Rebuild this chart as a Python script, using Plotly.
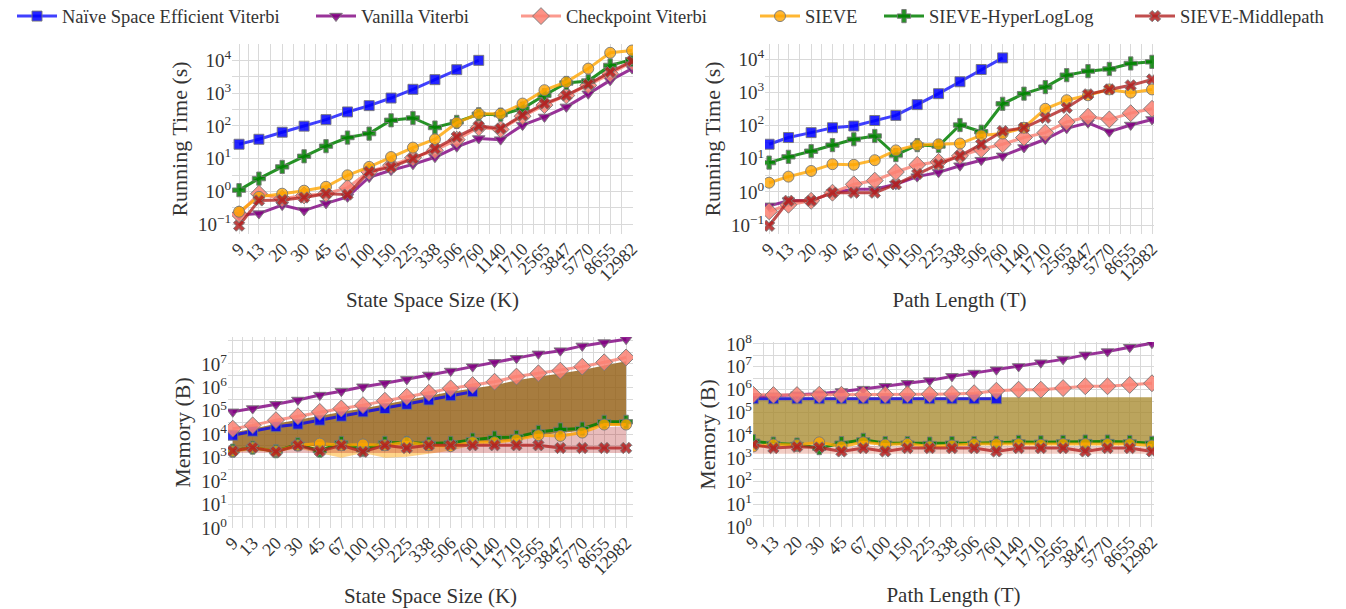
import numpy as np
import plotly.graph_objects as go

# ---------------- data ----------------
X = [9, 13, 20, 30, 45, 67, 100, 150, 225, 338, 506, 760, 1140, 1710, 2565, 3847, 5770, 8655, 12982]
X_LABELS = [str(v) for v in X]

series_names = ["Naïve Space Efficient Viterbi", "Vanilla Viterbi", "Checkpoint Viterbi",
                "SIEVE", "SIEVE-HyperLogLog", "SIEVE-Middlepath"]

# Running time vs state space size K (s)
time_K_naive = [27.5, 39, 64, 98, 155, 266, 415, 707, 1306, 2580, 5190, 10000]
time_K_vanilla = [0.19, 0.21, 0.38, 0.26, 0.43, 0.68, 2.7, 4.4, 6.7, 11, 23, 41, 38, 105, 187, 380, 950, 2450, 5600]
time_K_checkpoint = [0.2, 0.85, 0.6, 0.75, 0.85, 1.3, 4.0, 6.3, 10.6, 18, 38, 89, 78, 196, 430, 850, 1730, 3900, 8900]
time_K_sieve = [0.24, 0.68, 0.85, 1.05, 1.38, 3.1, 5.6, 11.2, 21.7, 39, 125, 234, 234, 480, 1230, 2180, 5600, 17000, 20000]
time_K_hll = [1.09, 2.45, 5.6, 11.8, 24, 44, 58, 148, 174, 89, 132, 226, 220, 336, 860, 2040, 2340, 7000, 10500]
time_K_middle = [0.09, 0.53, 0.55, 0.65, 0.85, 0.8, 4.0, 5.5, 10, 20, 46, 98, 83, 210, 480, 850, 1860, 4400, 9500]

# Running time vs path length T (s)
time_T_naive = [27.6, 44, 62, 87, 98, 144, 205, 435, 930, 2130, 5000, 11200]
time_T_vanilla = [0.38, 0.54, 0.54, 0.95, 1.2, 1.2, 1.7, 2.9, 3.9, 6.2, 9.1, 12.3, 22, 39, 83, 123, 66, 105, 155]
time_T_checkpoint = [0.26, 0.41, 0.54, 0.95, 1.7, 2.2, 4.0, 6.6, 8.1, 12.3, 19.5, 27.5, 44, 62, 130, 187, 155, 240, 325]
time_T_sieve = [1.9, 2.9, 4.3, 6.9, 6.6, 9.1, 18, 26, 27.5, 29, 51, 58, 87, 325, 590, 830, 1250, 1000, 1250]
time_T_hll = [7.7, 11.5, 17, 26, 39, 49, 13, 26, 24.5, 105, 66, 460, 930, 1470, 3370, 4460, 5200, 7600, 8500]
time_T_middle = [0.095, 0.54, 0.54, 0.95, 0.95, 0.95, 1.7, 3.5, 6.9, 12.3, 27.5, 69, 87, 174, 350, 890, 1250, 1660, 2500]

# Memory vs state space size K (B)
mem_K_naive = [9.1e3, 1.35e4, 2.1e4, 2.7e4, 4e4, 5.9e4, 9e4, 1.26e5, 1.9e5, 2.9e5, 4.4e5, 6.5e5]
mem_K_vanilla = [9.1e4, 1.25e5, 1.9e5, 2.9e5, 4.7e5, 6.9e5, 1.07e6, 1.5e6, 2.2e6, 3.4e6, 5e6, 7.7e6,
                 1.18e7, 1.75e7, 2.7e7, 3.7e7, 5.9e7, 8.2e7, 1.14e8]
mem_K_checkpoint = [1.74e4, 2.4e4, 4e4, 5.9e4, 9e4, 1.26e5, 1.75e5, 2.7e5, 4e5, 5.9e5, 9.1e5, 1.26e6,
                    1.75e6, 2.9e6, 4e6, 5.2e6, 7.7e6, 1.18e7, 1.9e7]
mem_K_sieve = [1.9e3, 2.7e3, 1.9e3, 3.4e3, 4e3, 3.4e3, 3.7e3, 3.4e3, 4.6e3, 3.4e3, 3.1e3, 4.6e3,
               4.6e3, 5.9e3, 9.1e3, 8.5e3, 1.18e4, 2.6e4, 2.6e4]
mem_K_hll = [2e3, 2.7e3, 1.9e3, 3.7e3, 2e3, 4.3e3, 2.2e3, 4.3e3, 4.3e3, 4e3, 4.3e3, 5.9e3,
             7.2e3, 7.7e3, 1.26e4, 1.6e4, 1.75e4, 3.4e4, 3.4e4]
mem_K_middle = [1.95e3, 2.7e3, 1.8e3, 3.4e3, 1.9e3, 3.4e3, 1.8e3, 3.4e3, 2.6e3, 3.4e3, 3.4e3, 3.4e3,
                3.4e3, 3.4e3, 3.4e3, 2.6e3, 2.6e3, 2.6e3, 2.6e3]

# Memory vs path length T (B)
mem_T_naive = [4e5, 4e5, 4e5, 4e5, 4e5, 4e5, 4e5, 4e5, 4e5, 4e5, 4e5, 4e5]
mem_T_vanilla = [5e5, 5.4e5, 6e5, 6.6e5, 8.3e5, 1.05e6, 1.4e6, 1.9e6, 2.5e6, 3.8e6, 5.3e6, 7.4e6,
                 1.03e7, 1.5e7, 2.1e7, 3.3e7, 4.6e7, 7.1e7, 1.07e8]
mem_T_checkpoint = [6e5, 5.8e5, 5.8e5, 6e5, 6e5, 6e5, 6e5, 6.3e5, 6.3e5, 6.5e5, 7e5, 9e5,
                    1e6, 1e6, 1.17e6, 1.4e6, 1.4e6, 1.6e6, 1.9e6]
mem_T_sieve = [3.3e3, 4e3, 3.8e3, 5e3, 3.3e3, 5e3, 4e3, 4.3e3, 3.3e3, 3.6e3, 4.2e3, 4.2e3,
               4.2e3, 3.9e3, 4.2e3, 4.2e3, 4.2e3, 4.2e3, 3.6e3]
mem_T_hll = [5.6e3, 4.4e3, 4e3, 2.8e3, 4.6e3, 6.4e3, 4.6e3, 4.6e3, 4.4e3, 4.6e3, 4.6e3, 4.8e3,
             5.2e3, 5e3, 5.2e3, 5.4e3, 5.4e3, 5.2e3, 4.6e3]
mem_T_middle = [4e3, 2.8e3, 3.2e3, 3e3, 2e3, 2.8e3, 2e3, 2.8e3, 2.8e3, 2.8e3, 2.8e3, 2e3,
                2.8e3, 2.8e3, 2.8e3, 2e3, 2.8e3, 2.8e3, 2e3]

# shaded bands
band_K_brown_hi = [1.2e4, 1.7e4, 2.8e4, 4.2e4, 6.5e4, 9e4, 1.25e5, 1.9e5, 2.8e5, 4.2e5, 6.5e5, 9e5,
                   1.25e6, 2e6, 2.8e6, 3.7e6, 5.5e6, 8.5e6, 1.3e7]
band_K_brown_lo = [2.2e3, 2.7e3, 2.2e3, 3.4e3, 3e3, 3.4e3, 3e3, 3.4e3, 3.8e3, 3.4e3, 3.4e3, 4.3e3,
                   4.6e3, 5.5e3, 9e3, 1.1e4, 1.4e4, 2.4e4, 2.4e4]
band_K_pink_hi = [2.2e3, 2.7e3, 2.2e3, 3.4e3, 2.5e3, 3.4e3, 2.5e3, 3.4e3, 3.4e3, 3.4e3, 3.4e3, 4.2e3,
                  4.5e3, 5.4e3, 8.5e3, 1.05e4, 1.35e4, 2e4, 2.2e4]
band_K_pink_lo = [1.6e3, 1.7e3, 1.6e3, 1.7e3, 1.6e3, 1.7e3, 1.6e3, 1.6e3, 1.6e3, 1.6e3, 1.6e3, 1.6e3,
                  1.6e3, 1.6e3, 1.6e3, 1.6e3, 1.6e3, 1.6e3, 1.6e3]
band_K_yellow_hi = [2.2e3, 2.9e3, 2.2e3, 3.6e3, 4.2e3, 3.6e3, 3.9e3, 3.6e3, 4.6e3, 3.6e3, 3.3e3, 3.4e3,
                    3.4e3, 3.4e3, 3.4e3, 3.4e3, 3.4e3, 3.4e3, 3.4e3]
band_K_yellow_lo = [1.7e3, 2e3, 1.7e3, 2.5e3, 1.6e3, 1e3, 1.6e3, 1e3, 1.1e3, 1.5e3, 2e3, 3.4e3,
                    3.4e3, 3.4e3, 3.4e3, 3.4e3, 3.4e3, 3.4e3, 3.4e3]

band_T_olive_hi = [4.6e5, 4.6e5, 4.6e5, 4.6e5, 4.6e5, 4.6e5, 4.6e5, 4.6e5, 4.6e5, 4.6e5, 4.6e5, 4.6e5,
                   4.6e5, 4.6e5, 4.6e5, 4.6e5, 4.6e5, 4.6e5, 4.6e5]
band_T_olive_lo = [4.5e3, 4.2e3, 4e3, 4e3, 4e3, 4.8e3, 4.2e3, 4.4e3, 4e3, 4.2e3, 4.4e3, 4.4e3,
                   4.6e3, 4.4e3, 4.6e3, 4.7e3, 4.7e3, 4.6e3, 4.2e3]
band_T_pink_hi = [3.5e3, 3.2e3, 3.3e3, 3.6e3, 3e3, 3.6e3, 3.2e3, 3.3e3, 3e3, 3.2e3, 3.3e3, 3.3e3,
                  3.3e3, 3.3e3, 3.3e3, 3.3e3, 3.3e3, 3.3e3, 3.1e3]
band_T_pink_lo = [1.6e3, 1.6e3, 1.6e3, 1.6e3, 1.6e3, 1.6e3, 1.6e3, 1.6e3, 1.6e3, 1.6e3, 1.6e3, 1.6e3,
                  1.6e3, 1.6e3, 1.6e3, 1.6e3, 1.6e3, 1.6e3, 1.6e3]

# ---------------- styles ----------------
FONT = "Liberation Serif"
TXT = "#333333"
EDGE = "rgba(120,120,120,0.9)"
styles = [
    dict(color="rgba(0,0,255,0.85)", symbol="square", size=10),
    dict(color="rgba(128,0,128,0.85)", symbol="triangle-down", size=11),
    dict(color="rgba(250,128,114,0.85)", symbol="diamond", size=13),
    dict(color="rgba(255,165,0,0.8)", symbol="circle", size=11),
    dict(color="rgba(0,128,0,0.85)", symbol="cross", size=11),
    dict(color="rgba(178,34,34,0.85)", symbol="x", size=10),
]
line_colors = ["rgba(0,0,255,0.75)", "rgba(128,0,128,0.8)", "rgba(250,128,114,0.8)",
               "rgba(255,165,0,0.8)", "rgba(0,128,0,0.85)", "rgba(178,34,34,0.8)"]
DRAW_ORDER = [0, 1, 2, 4, 3, 5]
# x pixel where each legend entry text starts in the reference
legend_text_px = [62, 361, 566, 805, 929, 1180]

fig = go.Figure()


def add_band(hi, lo, color, xa, ya):
    fig.add_trace(go.Scatter(x=X + X[::-1], y=hi + lo[::-1], fill="toself", fillcolor=color,
                             line=dict(width=0), mode="lines", showlegend=False,
                             hoverinfo="skip", xaxis=xa, yaxis=ya))


def add_series(data_list, xa, ya, legend):
    for i in DRAW_ORDER:
        ys = data_list[i]
        st = styles[i]
        fig.add_trace(go.Scatter(
            x=X[:len(ys)], y=ys, mode="lines+markers", name=series_names[i],
            line=dict(color=line_colors[i], width=3),
            marker=dict(symbol=st["symbol"], size=st["size"], color=st["color"],
                        line=dict(color=EDGE, width=1)),
            showlegend=legend, legend=("legend" if i == 0 else "legend%d" % (i + 1)),
            legendgroup=series_names[i], xaxis=xa, yaxis=ya))


# bands
add_band(band_K_yellow_hi, band_K_yellow_lo, "rgba(255,170,20,0.5)", "x3", "y3")
add_band(band_K_pink_hi, band_K_pink_lo, "rgba(178,34,34,0.3)", "x3", "y3")
add_band(band_K_brown_hi, band_K_brown_lo, "rgba(145,91,15,0.8)", "x3", "y3")
add_band(band_T_pink_hi, band_T_pink_lo, "rgba(215,90,60,0.3)", "x4", "y4")
add_band(band_T_olive_hi, band_T_olive_lo, "rgba(164,134,39,0.75)", "x4", "y4")

add_series([time_K_naive, time_K_vanilla, time_K_checkpoint, time_K_sieve, time_K_hll, time_K_middle],
           "x", "y", True)
add_series([time_T_naive, time_T_vanilla, time_T_checkpoint, time_T_sieve, time_T_hll, time_T_middle],
           "x2", "y2", False)
add_series([mem_K_naive, mem_K_vanilla, mem_K_checkpoint, mem_K_sieve, mem_K_hll, mem_K_middle],
           "x3", "y3", False)
add_series([mem_T_naive, mem_T_vanilla, mem_T_checkpoint, mem_T_sieve, mem_T_hll, mem_T_middle],
           "x4", "y4", False)

GRID = "#d9d9d9"
x_minor = [float(np.sqrt(X[i] * X[i + 1])) for i in range(len(X) - 1)]


def xaxis(domain, rng, title, anchor, standoff):
    return dict(domain=domain, type="log", range=rng, anchor=anchor, automargin=False,
                tickmode="array", tickvals=X, ticktext=X_LABELS, tickangle=-45,
                showgrid=True, gridcolor=GRID, gridwidth=1, zeroline=False, showline=False,
                ticks="", tickfont=dict(family=FONT, size=18, color=TXT),
                minor=dict(tickmode="array", tickvals=x_minor, showgrid=True, gridcolor=GRID, gridwidth=1),
                title=dict(text=title, font=dict(family=FONT, size=21, color=TXT), standoff=standoff))


def sup(e):
    s = str(e).replace("-", "\u2212")
    return "10<sup>" + s + "</sup>"


def yaxis(domain, rng, exps, minor_exps, title, anchor):
    return dict(domain=domain, type="log", range=rng, anchor=anchor, automargin=False,
                tickmode="array", tickvals=[10.0 ** e for e in exps], ticktext=[sup(e) for e in exps],
                showgrid=True, gridcolor=GRID, gridwidth=1, zeroline=False, showline=False,
                ticks="", tickfont=dict(family=FONT, size=19, color=TXT),
                minor=dict(tickmode="array", tickvals=[10.0 ** e for e in minor_exps],
                           showgrid=True, gridcolor=GRID, gridwidth=1),
                title=dict(text=title, font=dict(family=FONT, size=22, color=TXT), standoff=4))


layout = dict(
    width=1346, height=609, paper_bgcolor="white", plot_bgcolor="white",
    margin=dict(l=0, r=0, t=0, b=0, pad=0, autoexpand=False),
    font=dict(family=FONT, color=TXT),
    xaxis=xaxis([0.1724, 0.4703], [0.898, 4.121], "State Space Size (K)", "y", 8),
    yaxis=yaxis([0.6158, 0.9278], [-1.3, 4.5], [-1, 0, 1, 2, 3, 4],
                [-1.5, -0.5, 0.5, 1.5, 2.5, 3.5, 4.5], "Running Time (s)", "x"),
    xaxis2=xaxis([0.5684, 0.8574], [0.921, 4.13], "Path Length (T)", "y2", 8),
    yaxis2=yaxis([0.6158, 0.9278], [-1.27, 4.47], [-1, 0, 1, 2, 3, 4],
                 [-1.5, -0.5, 0.5, 1.5, 2.5, 3.5, 4.5], "Running Time (s)", "x2"),
    xaxis3=xaxis([0.1694, 0.4703], [0.916, 4.169], "State Space Size (K)", "y3", 10),
    yaxis3=yaxis([0.1330, 0.4466], [0, 8.15], [0, 1, 2, 3, 4, 5, 6, 7],
                 [0.5, 1.5, 2.5, 3.5, 4.5, 5.5, 6.5, 7.5, 8], "Memory (B)", "x3"),
    xaxis4=xaxis([0.5594, 0.8574], [0.952, 4.13], "Path Length (T)", "y4", 10),
    yaxis4=yaxis([0.1346, 0.4384], [0, 8.08], [0, 1, 2, 3, 4, 5, 6, 7, 8],
                 [0.5, 1.5, 2.5, 3.5, 4.5, 5.5, 6.5, 7.5], "Memory (B)", "x4"),
)
for i, px in enumerate(legend_text_px):
    key = "legend" if i == 0 else "legend%d" % (i + 1)
    layout[key] = dict(orientation="h", x=(px - 50) / 1346, xanchor="left", y=1.004, yanchor="top",
                       font=dict(family=FONT, size=18.5, color=TXT), bgcolor="rgba(0,0,0,0)",
                       itemwidth=40, borderwidth=0)
fig.update_layout(**layout)

fig.write_html("out.html", config={"displayModeBar": False},
               post_script="document.body.style.margin='0';document.body.style.padding='0';")
